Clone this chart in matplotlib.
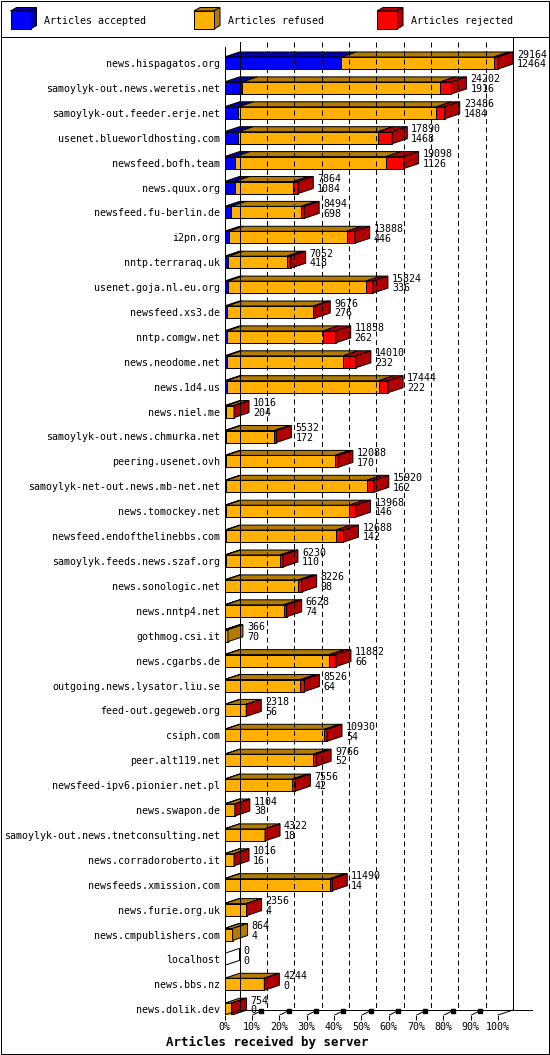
import matplotlib.pyplot as plt
from matplotlib.patches import Polygon, Rectangle
from matplotlib.lines import Line2D

# data
servers = ['news.hispagatos.org', 'samoylyk-out.news.weretis.net', 'samoylyk-out.feeder.erje.net',
           'usenet.blueworldhosting.com', 'newsfeed.bofh.team', 'news.quux.org', 'newsfeed.fu-berlin.de',
           'i2pn.org', 'nntp.terraraq.uk', 'usenet.goja.nl.eu.org', 'newsfeed.xs3.de', 'nntp.comgw.net',
           'news.neodome.net', 'news.1d4.us', 'news.niel.me', 'samoylyk-out.news.chmurka.net',
           'peering.usenet.ovh', 'samoylyk-net-out.news.mb-net.net', 'news.tomockey.net',
           'newsfeed.endofthelinebbs.com', 'samoylyk.feeds.news.szaf.org', 'news.sonologic.net',
           'news.nntp4.net', 'gothmog.csi.it', 'news.cgarbs.de', 'outgoing.news.lysator.liu.se',
           'feed-out.gegeweb.org', 'csiph.com', 'peer.alt119.net', 'newsfeed-ipv6.pionier.net.pl',
           'news.swapon.de', 'samoylyk-out.news.tnetconsulting.net', 'news.corradoroberto.it',
           'newsfeeds.xmission.com', 'news.furie.org.uk', 'news.cmpublishers.com', 'localhost',
           'news.bbs.nz', 'news.dolik.dev']
offered = [29164, 24202, 23486, 17890, 19098, 7864, 8494, 13888, 7052, 15824, 9676, 11858,
           14010, 17444, 1016, 5532, 12088, 15920, 13968, 12688, 6230, 8226, 6628, 366, 11882,
           8526, 2318, 10930, 9766, 7556, 1104, 4322, 1016, 11490, 2356, 864, 0, 4244, 754]
accepted = [12464, 1916, 1484, 1468, 1126, 1084, 698, 446, 418, 336, 276, 262, 232, 222, 204,
            172, 170, 162, 146, 142, 110, 98, 74, 70, 66, 64, 56, 54, 52, 42, 38, 18, 16, 14,
            4, 4, 0, 0, 0]
# rejected
rejected = [450, 1190, 900, 1520, 1880, 530, 350, 850, 420, 740, 210, 1310, 1380, 990, 50,
            210, 320, 745, 670, 820, 320, 350, 320, 0, 710, 425, 70, 290, 320, 320, 30, 30,
            30, 290, 30, 0, 0, 30, 50]
refused = [o - a - r for o, a, r in zip(offered, accepted, rejected)]

front = ['#0000FF', '#FFB000', '#FF0000']
dark = ['#0000B0', '#B37B00', '#B00000']
legend_labels = ['Articles accepted', 'Articles refused', 'Articles rejected']

FONT = 'DejaVu Sans Mono'
plt.rcParams['font.family'] = FONT
plt.rcParams['font.size'] = 7.2

W, H = 550, 1055
fig = plt.figure(figsize=(W / 100, H / 100), dpi=100)

# plot box in pixels
x0_px, x100_px = 224.5, 498.0
row0_px, row_step = 63.0, 24.9
top_px, floor_px = 37.0, 1015.0
right_px = 545.0
ppx = (x100_px - x0_px) / 100.0

ax = fig.add_axes([x0_px / W, 1 - floor_px / H, (right_px - x0_px) / W, (floor_px - top_px) / H])
ax.set_xlim(0, (right_px - x0_px) / ppx)
ax.set_ylim((floor_px - row0_px) / row_step, (top_px - row0_px) / row_step)
for s in ax.spines.values():
    s.set_visible(False)
ax.patch.set_alpha(0)

dx = 15 / ppx
dy = -5 / row_step
hh = 12 / row_step
lw = 0.72

def yrow(px):
    return (px - row0_px) / row_step

y_floor = yrow(floor_px)
y_back = y_floor + dy

# back wall, grid
ax.plot([dx, dx], [yrow(42), y_back], color='black', lw=lw)
ax.plot([0, 0], [yrow(47), y_floor], color='black', lw=lw)
for k in range(1, 10):
    ax.plot([10 * k + dx] * 2, [yrow(42), y_back], color='black', lw=lw, ls=(0, (5, 3.5)))
ax.plot([100 + dx] * 2, [yrow(top_px), y_back], color='black', lw=lw)
# floor
ax.plot([dx, (532 - x0_px) / ppx], [y_back, y_back], color='black', lw=lw)
ax.plot([-9 / ppx, dx], [y_floor + 3 / row_step, y_back], color='black', lw=lw)
ax.plot([100, 100 + dx], [y_floor, y_back], color='black', lw=lw)
for k in range(1, 10):
    ax.plot([10 * k - 1 / ppx, 10 * k + 0.55 * dx], [y_floor + 1 / row_step, y_floor + 0.75 * dy],
            color='black', lw=lw)
    ax.plot([10 * k + 0.62 * dx], [y_floor + 0.85 * dy], marker='s', ms=2.2, color='black')


def box3d(ax, xa, xb, yc, c_front, c_dark, side):
    yt, yb = yc - hh / 2, yc + hh / 2
    ax.add_patch(Polygon([(xa, yt), (xb, yt), (xb + dx, yt + dy), (xa + dx, yt + dy)],
                         closed=True, fc=c_dark, ec='black', lw=lw))
    ax.add_patch(Rectangle((xa, yt), xb - xa, hh, fc=c_front, ec='black', lw=lw))
    if side:
        ax.add_patch(Polygon([(xb, yt), (xb, yb), (xb + dx, yb + dy), (xb + dx, yt + dy)],
                             closed=True, fc=c_dark, ec='black', lw=lw))


scale = 100.0 / max(offered)
for i in range(len(servers)):
    vals = [accepted[i], refused[i], rejected[i]]
    last = max([j for j in range(3) if vals[j] > 0], default=-1)
    x = 0.0
    for j in range(3):
        if vals[j] <= 0:
            continue
        w = vals[j] * scale
        box3d(ax, x, x + w, i, front[j], dark[j], j == last)
        x += w
    if last < 0:
        yt, yb = i - hh / 2, i + hh / 2
        ax.add_patch(Polygon([(0, yt), (0, yb), (dx, yb + dy), (dx, yt + dy)],
                             closed=True, fc='white', ec='black', lw=lw))
    tx = x + dx + 4 / ppx
    ax.text(tx, i - 0.34, str(offered[i]), ha='left', va='center')
    ax.text(tx, i + 0.05, str(accepted[i]), ha='left', va='center')

ax.set_yticks(range(len(servers)))
ax.set_yticklabels(servers)
ax.tick_params(axis='y', length=0, pad=3)
ax.set_xticks(range(0, 101, 10))
ax.set_xticklabels([f'{k}%' for k in range(0, 101, 10)])
ax.tick_params(axis='x', direction='out', length=3.6, width=lw, pad=1.5)

fig.text(267.5 / W, 1 - 1042 / H, 'Articles received by server', ha='center', va='center',
         fontsize=9, fontweight='bold')


# frame and legend, in figure pixels
def fp(x, y):
    return (x / W, 1 - y / H)


fig.add_artist(Rectangle(fp(0.5, 1053.5), 548 / W, 1053 / H, transform=fig.transFigure,
                         fill=False, ec='black', lw=lw))
fig.add_artist(Line2D([0.5 / W, 548.5 / W], [1 - 37 / H] * 2, transform=fig.transFigure,
                      color='black', lw=lw))

leg_x = [10.5, 194, 377]
for j in range(3):
    xa, xb, yt, yb = leg_x[j], leg_x[j] + 20, 11, 29
    ddx, ddy = 6, 3.5
    fig.add_artist(Polygon([fp(xa, yt), fp(xb, yt), fp(xb + ddx, yt - ddy), fp(xa + ddx, yt - ddy)],
                           closed=True, transform=fig.transFigure, fc=dark[j], ec='black', lw=lw))
    fig.add_artist(Polygon([fp(xb, yt), fp(xb, yb), fp(xb + ddx, yb - ddy), fp(xb + ddx, yt - ddy)],
                           closed=True, transform=fig.transFigure, fc=dark[j], ec='black', lw=lw))
    fig.add_artist(Rectangle(fp(xa, yb), 20 / W, 18 / H, transform=fig.transFigure,
                             fc=front[j], ec='black', lw=lw))
    fig.text((xb + ddx + 8) / W, 1 - 20.5 / H, legend_labels[j], ha='left', va='center')

fig.savefig('out.png', dpi=100)
